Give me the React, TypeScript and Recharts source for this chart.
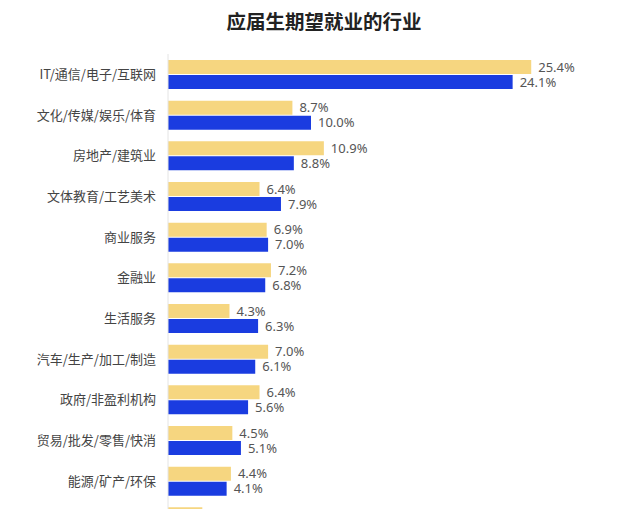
import React from 'react';
import { BarChart, Bar, XAxis, YAxis, LabelList } from 'recharts';

// 行业类别（从上到下）
const industries = [
  'IT/通信/电子/互联网',
  '文化/传媒/娱乐/体育',
  '房地产/建筑业',
  '文体教育/工艺美术',
  '商业服务',
  '金融业',
  '生活服务',
  '汽车/生产/加工/制造',
  '政府/非盈利机构',
  '贸易/批发/零售/快消',
  '能源/矿产/环保',
  '其他',
];

// 黄色系列（%）
const seriesA = [25.4, 8.7, 10.9, 6.4, 6.9, 7.2, 4.3, 7.0, 6.4, 4.5, 4.4, 2.4];
// 蓝色系列（%）
const seriesB = [24.1, 10.0, 8.8, 7.9, 7.0, 6.8, 6.3, 6.1, 5.6, 5.1, 4.1, 3.0];

const xTicks = [0, 10, 20, 30];

const data = industries.map((name, i) => ({ name, a: seriesA[i], b: seriesB[i] }));

const fmt = (v: number) => `${v.toFixed(1)}%`;

const labelStyle = { fontSize: 13, fill: '#555', fontFamily: '"Noto Sans", "Noto Sans CJK SC", sans-serif' };

export default function App() {
  return (
    <div style={{ position: 'fixed', left: 0, top: 0, width: 640, height: 509, overflow: 'hidden', background: '#fff' }}>
      <div
        style={{
          position: 'absolute',
          top: 9,
          left: 4,
          width: 640,
          textAlign: 'center',
          fontFamily: '"Noto Sans CJK SC", sans-serif',
          fontWeight: 700,
          fontSize: 19.5,
          lineHeight: '24px',
          color: '#222',
        }}
      >
        应届生期望就业的行业
      </div>
      <BarChart
        width={640}
        height={560}
        data={data}
        layout="vertical"
        margin={{ top: 54, right: 43, bottom: 18, left: 0 }}
        barSize={14}
        barGap={1}
      >
        <XAxis type="number" domain={[0, 30]} ticks={xTicks} hide />
        <YAxis
          type="category"
          dataKey="name"
          width={168}
          tickLine={false}
          tickSize={0}
          tickMargin={12}
          axisLine={{ stroke: '#e4e4e4' }}
          tick={{ fontSize: 13, fill: '#444', fontFamily: '"Noto Sans CJK SC", sans-serif' }}
        />
        <Bar dataKey="a" fill="#f6d680" isAnimationActive={false}>
          <LabelList dataKey="a" position="right" offset={7} formatter={fmt} style={labelStyle} />
        </Bar>
        <Bar dataKey="b" fill="#1a3ce0" isAnimationActive={false}>
          <LabelList dataKey="b" position="right" offset={7} formatter={fmt} style={labelStyle} />
        </Bar>
      </BarChart>
    </div>
  );
}
